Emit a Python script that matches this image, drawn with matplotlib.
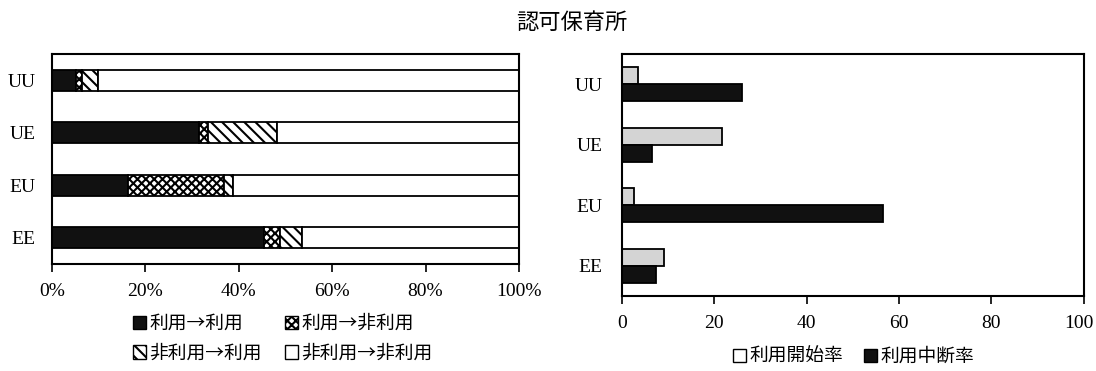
import matplotlib
matplotlib.use("Agg")
import matplotlib.pyplot as plt
from matplotlib.patches import Patch
from matplotlib.transforms import ScaledTranslation
import numpy as np

plt.rcParams['font.family'] = ['Liberation Serif', 'DejaVu Serif']
plt.rcParams['hatch.linewidth'] = 1.5

# Transition shares (%) for each group
groups = ["UU", "UE", "EU", "EE"]
use_use = [5.1, 31.5, 16.3, 45.3]
use_nonuse = [1.4, 1.9, 20.6, 3.6]
nonuse_use = [3.3, 14.7, 1.8, 4.6]
nonuse_nonuse = [100 - a - b - c for a, b, c in zip(use_use, use_nonuse, nonuse_use)]

# Start / stop rates (%)
start_rate = [3.6, 21.7, 2.7, 9.2]
stop_rate = [26.0, 6.6, 56.5, 7.4]

left_labels = ["利用→利用", "利用→非利用", "非利用→利用", "非利用→非利用"]
right_labels = ["利用開始率", "利用中断率"]
title = "認可保育所"
pct_ticks = [0, 20, 40, 60, 80, 100]
pct_ticklabels = ["0%", "20%", "40%", "60%", "80%", "100%"]
rate_ticks = [0, 20, 40, 60, 80, 100]

cjk = ['Noto Sans CJK JP', 'DejaVu Sans']

fig = plt.figure(figsize=(10.96, 3.71), dpi=100)

# ---- left: stacked transition shares ----
axL = fig.add_axes([0.0474, 0.2884, 0.4261, 0.566])
y = np.arange(len(groups))
styles = [
    dict(color="#111111", hatch=None),
    dict(color="white", hatch="xxxx"),
    dict(color="white", hatch="\\\\\\"),
    dict(color="white", hatch=None),
]
series = [use_use, use_nonuse, nonuse_use, nonuse_nonuse]
left = np.zeros(len(groups))
handlesL = []
for vals, st, lab in zip(series, styles, left_labels):
    axL.barh(y, vals, left=left, height=0.4, color=st["color"],
             hatch=st["hatch"], edgecolor="black", linewidth=1.3)
    left += np.array(vals)
    handlesL.append(Patch(facecolor=st["color"], hatch=st["hatch"],
                          edgecolor="black", linewidth=1.0, label=lab))
axL.set_xlim(0, 100)
axL.set_ylim(len(groups) - 0.5, -0.5)
axL.set_yticks(y)
axL.set_yticklabels(groups)
axL.set_xticks(pct_ticks)
axL.set_xticklabels(pct_ticklabels)
axL.tick_params(axis='y', length=0, pad=12, labelsize=14)
axL.tick_params(axis='x', direction='out', length=6, width=1.2, pad=8, labelsize=14)
for sp in axL.spines.values():
    sp.set_linewidth(1.5)

# ---- right: start / stop rates ----
axR = fig.add_axes([0.5672, 0.2022, 0.4218, 0.6523])
h = 0.28
axR.barh(y - h / 2, start_rate, height=h, color="#d4d4d4",
         edgecolor="black", linewidth=1.3)
axR.barh(y + h / 2, stop_rate, height=h, color="#111111",
         edgecolor="black", linewidth=1.3)
axR.set_xlim(0, 100)
axR.set_ylim(len(groups) - 0.5, -0.5)
axR.set_yticks(y)
axR.set_yticklabels(groups)
axR.set_xticks(rate_ticks)
axR.tick_params(axis='y', length=0, pad=14, labelsize=14)
axR.tick_params(axis='x', direction='out', length=6, width=1.2, pad=8, labelsize=14)
for sp in axR.spines.values():
    sp.set_linewidth(1.5)
# keep the last tick label inside the canvas
last = axR.get_xticklabels()[-1]
last.set_transform(last.get_transform() + ScaledTranslation(-5 / 100, 0, fig.dpi_scale_trans))

handlesR = [
    Patch(facecolor="white", edgecolor="black", linewidth=1.0, label=right_labels[0]),
    Patch(facecolor="#111111", edgecolor="black", linewidth=1.0, label=right_labels[1]),
]

fig.text(0.522, 0.94, title, ha="center", va="center", fontsize=16, family=cjk)

# legend laid out row by row: column-major order of handles
orderL = [0, 2, 1, 3]
legL = fig.legend(handles=[handlesL[i] for i in orderL], ncol=2, loc="center",
                  bbox_to_anchor=(0.258, 0.088), frameon=False,
                  prop=dict(family=cjk, size=13.5), handlelength=0.7,
                  handleheight=0.7, handletextpad=0.2, columnspacing=1.2,
                  labelspacing=0.45)
legR = fig.legend(handles=handlesR, ncol=2, loc="center",
                  bbox_to_anchor=(0.779, 0.04), frameon=False,
                  prop=dict(family=cjk, size=13.5), handlelength=0.7,
                  handleheight=0.7, handletextpad=0.2, columnspacing=1.1)

fig.savefig("out.png", dpi=100)
